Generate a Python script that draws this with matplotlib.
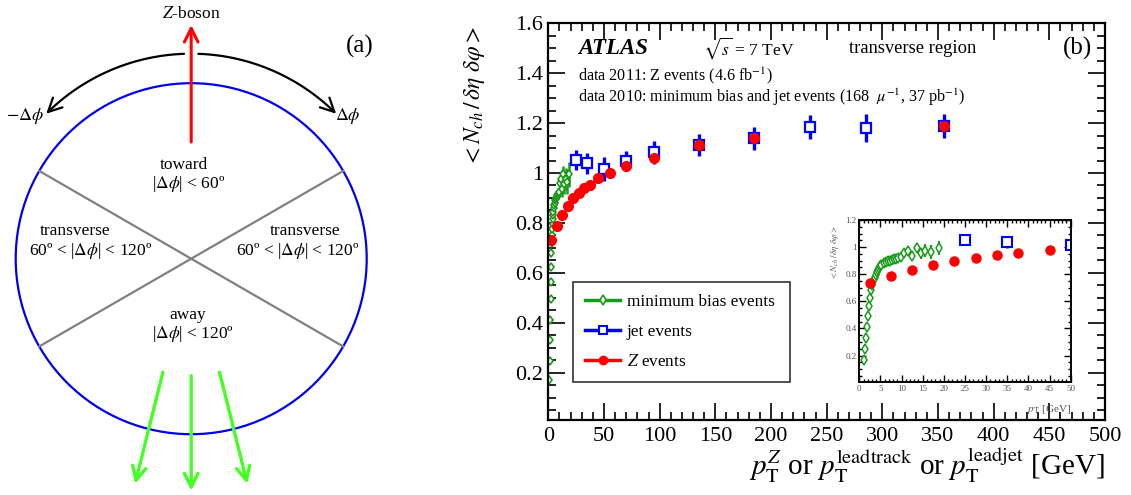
import numpy as np
import matplotlib
matplotlib.use("Agg")
import matplotlib.pyplot as plt
from matplotlib.patches import Circle, FancyArrowPatch
from matplotlib.path import Path
from matplotlib.lines import Line2D
from matplotlib.ticker import MultipleLocator, FuncFormatter

plt.rcParams['font.family'] = ['Liberation Serif', 'DejaVu Serif']
plt.rcParams['mathtext.fontset'] = 'stix'

# ---- data ----
# minimum bias events: leading track pT
mb_pt = [1.0, 1.35, 1.6, 1.85, 2.1, 2.35, 2.6, 2.85, 3.1, 3.35, 3.6, 3.85, 4.1, 4.35,
         4.6, 4.85, 5.25, 5.75, 6.25, 6.75, 7.25, 7.75, 8.25, 8.75, 9.25, 9.75,
         10.6, 11.6, 12.5, 13.6, 14.5, 15.5, 17.0, 18.9]
mb_val = [0.17, 0.245, 0.33, 0.41, 0.495, 0.565, 0.625, 0.68, 0.72, 0.75, 0.775, 0.795,
          0.815, 0.83, 0.845, 0.86, 0.87, 0.88, 0.89, 0.895, 0.90, 0.905, 0.91, 0.915,
          0.92, 0.925, 0.96, 0.975, 0.935, 0.995, 0.955, 0.975, 0.965, 0.995]
mb_err = [0.005, 0.005, 0.005, 0.005, 0.005, 0.005, 0.005, 0.005, 0.006, 0.006, 0.006,
          0.006, 0.007, 0.007, 0.007, 0.008, 0.008, 0.009, 0.01, 0.01, 0.011, 0.012,
          0.013, 0.014, 0.015, 0.016, 0.02, 0.025, 0.03, 0.035, 0.04, 0.045, 0.05, 0.05]

# jet events: leading jet pT
jet_pt = [25, 35, 50, 70, 95, 135, 185, 235, 285, 355]
jet_val = [1.052, 1.039, 1.016, 1.049, 1.083, 1.112, 1.139, 1.183, 1.181, 1.188]
jet_err = [0.04, 0.042, 0.047, 0.04, 0.045, 0.045, 0.045, 0.048, 0.055, 0.047]

# Z events: Z pT
z_pt = [2.5, 7.5, 12.5, 17.5, 22.5, 27.5, 32.5, 37.5, 45, 55, 70, 95, 135, 185, 355]
z_val = [0.733, 0.788, 0.833, 0.868, 0.9, 0.92, 0.94, 0.953, 0.978, 1.0, 1.029,
         1.061, 1.112, 1.142, 1.188]
z_err = [0.004, 0.004, 0.004, 0.004, 0.005, 0.005, 0.005, 0.005, 0.005, 0.006, 0.007,
         0.008, 0.01, 0.012, 0.02]

green = '#1a9a1a'
W, H = 1131, 495
fig = plt.figure(figsize=(W / 100, H / 100), dpi=100)

# ================= panel (a): diagram =================
axa = fig.add_axes([0, 0, 380 / W, 1])
axa.set_xlim(0, 380)
axa.set_ylim(495, 0)
axa.axis('off')

cx, cy, R = 191.2, 258.7, 175.5


def pol(r, deg):
    t = np.radians(deg)
    return cx + r * np.cos(t), cy - r * np.sin(t)


axa.add_patch(Circle((cx, cy), R, fill=False, ec='#0000ee', lw=1.6))
for a in (30, 150):
    x0, y0 = pol(R, a)
    x1, y1 = pol(R, a + 180)
    axa.plot([x0, x1], [y0, y1], color='#808080', lw=1.6)

head = '->,head_length=0.7,head_width=0.35'

# Z boson arrow
axa.add_patch(FancyArrowPatch((cx, 142), (cx, 25), arrowstyle=head, mutation_scale=14,
                              color='#ff0000', lw=2.2, shrinkA=0, shrinkB=0))
axa.text(cx, 14, r'$Z$-boson', ha='center', va='center', fontsize=12.5)

# delta-phi arcs
for a0, a1 in ((92, 135), (88, 45)):
    th = np.linspace(a0, a1, 40)
    pts = [pol(205, t) for t in th]
    axa.add_patch(FancyArrowPatch(path=Path(pts), arrowstyle=head, mutation_scale=14,
                                  color='black', lw=1.6))
axa.text(25, 116, r'$-\mathit{\Delta}\phi$', ha='center', va='center', fontsize=13)
axa.text(348, 116, r'$\mathit{\Delta}\phi$', ha='center', va='center', fontsize=13)

# recoil jets
for a in (-104, -90, -76):
    axa.add_patch(FancyArrowPatch(pol(117, a), pol(232, a), arrowstyle=head, mutation_scale=14,
                                  color='#44ff22', lw=2.4, shrinkA=0, shrinkB=0))

dphi = r'$\mathit{\Delta}\phi$'
fs = 12.5
axa.text(184, 165, 'toward', ha='center', va='center', fontsize=fs)
axa.text(189, 184, '|' + dphi + '| < 60º', ha='center', va='center', fontsize=fs)
axa.text(75, 231, 'transverse', ha='center', va='center', fontsize=fs)
axa.text(91, 251, '60º < |' + dphi + '| < 120º', ha='center', va='center', fontsize=fs)
axa.text(305, 231, 'transverse', ha='center', va='center', fontsize=fs)
axa.text(298, 251, '60º < |' + dphi + '| < 120º', ha='center', va='center', fontsize=fs)
axa.text(188, 315, 'away', ha='center', va='center', fontsize=fs)
axa.text(193, 334, '|' + dphi + '| < 120º', ha='center', va='center', fontsize=fs)
axa.text(360, 46, '(a)', ha='center', va='center', fontsize=18)

# ================= panel (b): main plot =================
gfmt = FuncFormatter(lambda v, p: '%g' % round(v, 6))

ax = fig.add_axes([548.3 / W, 75 / H, 556.7 / W, 396.7 / H])
ax.errorbar(mb_pt, mb_val, yerr=mb_err, fmt='d', color=green, mfc='white', mec=green,
            ms=4.5, mew=1.2, elinewidth=1.8, capsize=0)
ax.errorbar(jet_pt, jet_val, yerr=jet_err, fmt='s', color='#0000ff', mfc='white', mec='#0000ff',
            ms=6.5, mew=1.6, elinewidth=2.4, capsize=0)
ax.errorbar(z_pt, z_val, yerr=z_err, fmt='o', color='#ff0000', ms=7, elinewidth=1.5, capsize=0)

ax.set_xlim(0, 500)
ax.set_ylim(0.01, 1.6)
ax.xaxis.set_major_locator(MultipleLocator(50))
ax.xaxis.set_minor_locator(MultipleLocator(10))
ax.yaxis.set_major_locator(MultipleLocator(0.2))
ax.yaxis.set_minor_locator(MultipleLocator(0.05))
ax.xaxis.set_major_formatter(gfmt)
ax.yaxis.set_major_formatter(gfmt)
ax.tick_params(which='both', direction='in', top=True, right=True, width=1.2)
ax.tick_params(which='major', length=12, labelsize=16)
ax.tick_params(which='minor', length=6)
ax.tick_params(axis='x', pad=5)
ax.tick_params(axis='y', pad=4)
for s in ax.spines.values():
    s.set_linewidth(1.6)

ax.text(-0.132, 0.815, r'$<N_{ch}\,/\,\delta\eta\ \delta\varphi>$', transform=ax.transAxes,
        rotation=90, ha='center', va='center', fontsize=17)
ax.text(1.0, -0.115, r'$p_{\mathrm{T}}^{Z}$ or $p_{\mathrm{T}}^{\mathrm{leadtrack}}$ or '
        r'$p_{\mathrm{T}}^{\mathrm{leadjet}}$ [GeV]', transform=ax.transAxes,
        ha='right', va='center', fontsize=21)

ax.text(0.053, 0.937, 'ATLAS', transform=ax.transAxes, ha='left', va='center',
        fontsize=16.5, fontweight='bold', fontstyle='italic')
ax.text(0.278, 0.937, r'$\sqrt{s}$ = 7 TeV', transform=ax.transAxes, ha='left', va='center',
        fontsize=12.5)
ax.text(0.541, 0.937, 'transverse region', transform=ax.transAxes, ha='left', va='center',
        fontsize=13.3)
ax.text(0.977, 0.937, '(b)', transform=ax.transAxes, ha='right', va='center', fontsize=18)
ax.text(0.053, 0.868, r'data 2011: Z events (4.6 fb$^{\mathrm{-1}}$)', transform=ax.transAxes,
        ha='left', va='center', fontsize=11.6)
ax.text(0.053, 0.814, r'data 2010: minimum bias and jet events (168  $\mu^{\mathrm{-1}}$, '
        r'37 pb$^{\mathrm{-1}}$)', transform=ax.transAxes, ha='left', va='center', fontsize=11.6)

handles = [
    Line2D([], [], color=green, lw=2.5, marker='d', mfc='white', mec=green, ms=5, mew=1.2),
    Line2D([], [], color='#0000ff', lw=2.5, marker='s', mfc='white', mec='#0000ff', ms=6, mew=1.5),
    Line2D([], [], color='#ff0000', lw=2.5, marker='o', ms=6),
]
leg = ax.legend(handles, ['minimum bias events', 'jet events', r'$Z$ events'],
                loc='lower left', bbox_to_anchor=(0.045, 0.096, 0.39, 0.261), mode='expand',
                fontsize=12.4, frameon=True, fancybox=False, edgecolor='black',
                handlelength=2.0, handletextpad=0.4, borderaxespad=0, labelspacing=0.8,
                borderpad=0.7)
leg.get_frame().set_linewidth(1.2)

# ---- inset ----
axi = fig.add_axes([859.3 / W, (H - 382) / H, 211.4 / W, 162 / H])
axi.errorbar(mb_pt, mb_val, yerr=mb_err, fmt='d', color=green, mfc='white', mec=green,
             ms=5, mew=1.1, elinewidth=1.6, capsize=0)
axi.errorbar(jet_pt, jet_val, yerr=jet_err, fmt='s', color='#0000ff', mfc='white', mec='#0000ff',
             ms=6.5, mew=1.5, elinewidth=1.8, capsize=0)
axi.errorbar(z_pt, z_val, yerr=z_err, fmt='o', color='#ff0000', ms=6.5, elinewidth=1.2, capsize=0)
axi.set_xlim(0, 50)
axi.set_ylim(0.005, 1.2)
axi.xaxis.set_major_locator(MultipleLocator(5))
axi.xaxis.set_minor_locator(MultipleLocator(1))
axi.yaxis.set_major_locator(MultipleLocator(0.2))
axi.yaxis.set_minor_locator(MultipleLocator(0.05))
axi.xaxis.set_major_formatter(gfmt)
axi.yaxis.set_major_formatter(gfmt)
axi.tick_params(which='both', direction='in', top=True, right=True, width=1.0,
                labelsize=6.5, labelcolor='#555555', pad=2)
axi.tick_params(which='major', length=5)
axi.tick_params(which='minor', length=2.5)
for s in axi.spines.values():
    s.set_linewidth(1.4)
axi.text(1.0, -0.17, r'$p_{\mathrm{T}}$ [GeV]', transform=axi.transAxes, ha='right', va='center',
         fontsize=8, color='#555555')
axi.text(-0.115, 0.8, r'$<N_{ch}\,/\,\delta\eta\ \delta\varphi>$', transform=axi.transAxes,
         rotation=90, ha='center', va='center', fontsize=6.5, color='#555555')

fig.savefig('out.png', dpi=100)
